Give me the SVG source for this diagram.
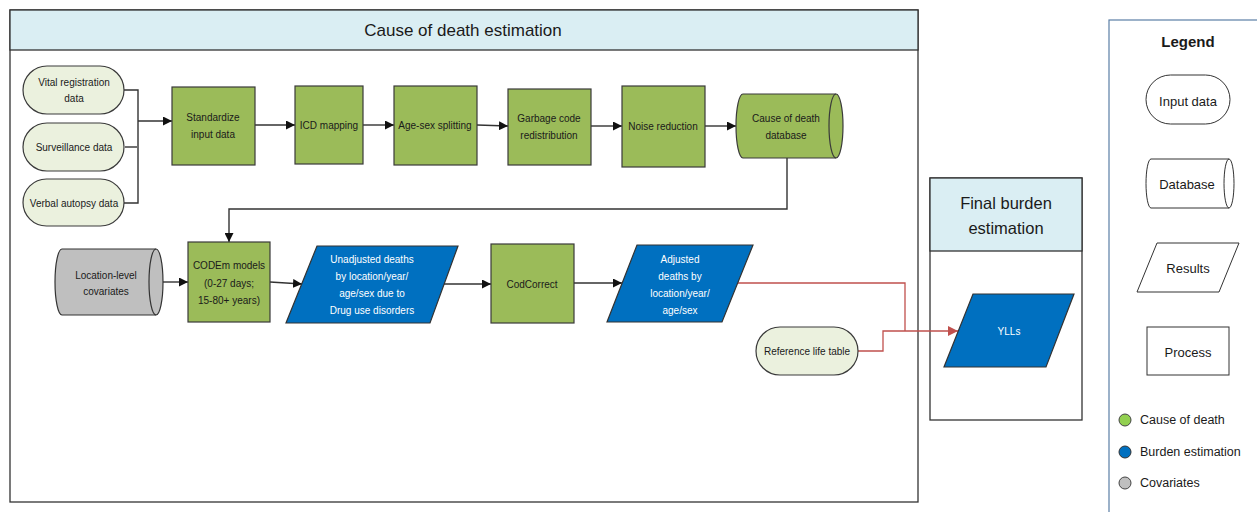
<svg xmlns="http://www.w3.org/2000/svg" width="1257" height="512" viewBox="0 0 1257 512">
<defs>
<marker id="ah" viewBox="0 0 10 10" refX="10" refY="5" markerWidth="9" markerHeight="9" markerUnits="userSpaceOnUse" orient="auto"><path d="M0,0 L10,5 L0,10 Z" fill="#111"/></marker>
<marker id="ahr" viewBox="0 0 10 10" refX="10" refY="5" markerWidth="10" markerHeight="10" markerUnits="userSpaceOnUse" orient="auto"><path d="M0,0 L10,5 L0,10 Z" fill="#C0504D"/></marker>
</defs>
<style>
text{font-family:"Liberation Sans",Arial,sans-serif;text-anchor:middle;dominant-baseline:central;fill:#1a1a1a}
.t{font-size:10px}
.w{fill:#fff}
.proc{fill:#9BBB59;stroke:#3a3a3a;stroke-width:1.2}
.inp{fill:#EBF1DE;stroke:#3a3a3a;stroke-width:1.2}
.res{fill:#0070C0;stroke:#333;stroke-width:1.2}
.cov{fill:#BFBFBF;stroke:#333;stroke-width:1.2}
.frame{fill:#fff;stroke:#333;stroke-width:1.3}
.hdr{fill:#DAEEF3;stroke:#333;stroke-width:1.3}
.lg{fill:#fff;stroke:#333;stroke-width:1}
.lt{font-size:13px}
.c{fill:none;stroke:#333;stroke-width:1.4}
.r{fill:none;stroke:#C0504D;stroke-width:1.3}
.nf{fill:none}
</style>

<g id="frame-cause">
<rect class="frame" x="10" y="10" width="908" height="492"/>
<rect class="hdr" x="10" y="10" width="908" height="40"/>
<text x="463" y="30" style="font-size:17px">Cause of death estimation</text>
</g>

<g id="frame-final">
<rect class="frame" x="930" y="178" width="152" height="242"/>
<rect class="hdr" x="930" y="178" width="152" height="73"/>
<text x="1006" y="203" style="font-size:16.5px">Final burden</text>
<text x="1006" y="228" style="font-size:16.5px">estimation</text>
</g>

<g id="legend">
<rect x="1109" y="20" width="160" height="500" fill="#fff" stroke="#5B7FA6" stroke-width="1.2"/>
<text x="1188" y="41" style="font-size:15px;font-weight:bold">Legend</text>
<rect class="lg" x="1146" y="75" width="84" height="49" rx="24.5"/>
<text class="lt" x="1188" y="101">Input data</text>
<path class="lg" d="M1151,159 H1229 A5,24.5 0 0 1 1229,208 H1151 A5,24.5 0 0 1 1151,159 Z"/>
<path class="lg nf" d="M1229,159 A5,24.5 0 0 0 1229,208"/>
<text class="lt" x="1187" y="184">Database</text>
<path class="lg" d="M1157,243 L1239,243 L1219,292 L1137,292 Z"/>
<text class="lt" x="1188" y="268">Results</text>
<rect class="lg" x="1147" y="327" width="82" height="48"/>
<text class="lt" x="1188" y="352">Process</text>
<circle cx="1125" cy="420" r="6" fill="#92D050" stroke="#444" stroke-width="1"/>
<text x="1140" y="420" style="font-size:12.5px;text-anchor:start">Cause of death</text>
<circle cx="1125" cy="452" r="6" fill="#0070C0" stroke="#333" stroke-width="1"/>
<text x="1140" y="452" style="font-size:12.5px;text-anchor:start">Burden estimation</text>
<circle cx="1125" cy="483" r="6" fill="#BFBFBF" stroke="#444" stroke-width="1"/>
<text x="1140" y="483" style="font-size:12.5px;text-anchor:start">Covariates</text>
</g>

<g id="connectors">
<path class="c" d="M124,90 H138 V203 H124"/>
<path class="c" d="M125,147 H137"/>
<path class="c" d="M138,121 H172" marker-end="url(#ah)"/>
<path class="c" d="M255,125 L295,125" marker-end="url(#ah)"/>
<path class="c" d="M363,125 H394" marker-end="url(#ah)"/>
<path class="c" d="M477,125 L508,126" marker-end="url(#ah)"/>
<path class="c" d="M591,126 H622" marker-end="url(#ah)"/>
<path class="c" d="M705,126 H736" marker-end="url(#ah)"/>
<path class="c" d="M787,158 V209 H229 V242" marker-end="url(#ah)"/>
<path class="c" d="M163,282 H188" marker-end="url(#ah)"/>
<path class="c" d="M270,282 L302,284" marker-end="url(#ah)"/>
<path class="c" d="M444,284 H491" marker-end="url(#ah)"/>
<path class="c" d="M574,283 H622" marker-end="url(#ah)"/>
<path class="r" d="M738,283 H905 V331"/>
<path class="r" d="M858,351 H883 V331 H958" marker-end="url(#ahr)"/>
</g>

<g id="vital-registration">
<rect class="inp" x="23" y="66" width="101" height="48" rx="24"/>
<text class="t" x="74" y="82">Vital registration</text>
<text class="t" x="74" y="98">data</text>
</g>
<g id="surveillance">
<rect class="inp" x="23" y="123" width="101" height="48" rx="24"/>
<text class="t" x="74" y="147">Surveillance data</text>
</g>
<g id="verbal-autopsy">
<rect class="inp" x="23" y="179" width="101" height="47" rx="23.5"/>
<text class="t" x="74" y="203">Verbal autopsy data</text>
</g>

<g id="standardize">
<rect class="proc" x="172" y="87" width="83" height="78"/>
<text class="t" x="213" y="117">Standardize</text>
<text class="t" x="213" y="134">input data</text>
</g>
<g id="icd-mapping">
<rect class="proc" x="295" y="86" width="68" height="78"/>
<text class="t" x="329" y="125">ICD mapping</text>
</g>
<g id="age-sex">
<rect class="proc" x="394" y="86" width="83" height="79"/>
<text class="t" x="435" y="125">Age-sex splitting</text>
</g>
<g id="garbage-code">
<rect class="proc" x="508" y="89" width="83" height="76"/>
<text class="t" x="549" y="118">Garbage code</text>
<text class="t" x="549" y="135">redistribution</text>
</g>
<g id="noise-reduction">
<rect class="proc" x="622" y="86" width="83" height="81"/>
<text class="t" x="663" y="126">Noise reduction</text>
</g>
<g id="cod-database">
<path class="proc" d="M743,94 H836 A7,32 0 0 1 836,158 H743 A7,32 0 0 1 743,94 Z"/>
<path class="proc nf" d="M836,94 A7,32 0 0 0 836,158"/>
<text class="t" x="786" y="118">Cause of death</text>
<text class="t" x="786" y="135">database</text>
</g>

<g id="covariates">
<path class="cov" d="M62,249 H156 A7,33 0 0 1 156,315 H62 A7,33 0 0 1 62,249 Z"/>
<path class="cov nf" d="M156,249 A7,33 0 0 0 156,315"/>
<text class="t" x="106" y="275">Location-level</text>
<text class="t" x="106" y="291">covariates</text>
</g>
<g id="codem">
<rect class="proc" x="188" y="242" width="82" height="80"/>
<text class="t" x="229" y="265">CODEm models</text>
<text class="t" x="229" y="283">(0-27 days;</text>
<text class="t" x="229" y="300">15-80+ years)</text>
</g>
<g id="unadjusted">
<path class="res" d="M317,246 L458,246 L430,323 L286,323 Z"/>
<text class="t w" x="372" y="259">Unadjusted deaths</text>
<text class="t w" x="372" y="276">by location/year/</text>
<text class="t w" x="372" y="293">age/sex due to</text>
<text class="t w" x="372" y="310">Drug use disorders</text>
</g>
<g id="codcorrect">
<rect class="proc" x="491" y="244" width="83" height="79"/>
<text class="t" x="532" y="284">CodCorrect</text>
</g>
<g id="adjusted">
<path class="res" d="M637,245 L753,245 L722,322 L607,322 Z"/>
<text class="t w" x="680" y="259">Adjusted</text>
<text class="t w" x="680" y="276">deaths by</text>
<text class="t w" x="680" y="293">location/year/</text>
<text class="t w" x="680" y="310">age/sex</text>
</g>
<g id="reference-life-table">
<rect class="inp" x="756" y="327" width="102" height="48" rx="24"/>
<text class="t" x="807" y="351">Reference life table</text>
</g>
<g id="ylls">
<path class="res" d="M973,294 L1074,294 L1046,367 L944,367 Z"/>
<text class="t w" x="1009" y="331">YLLs</text>
</g>
</svg>
